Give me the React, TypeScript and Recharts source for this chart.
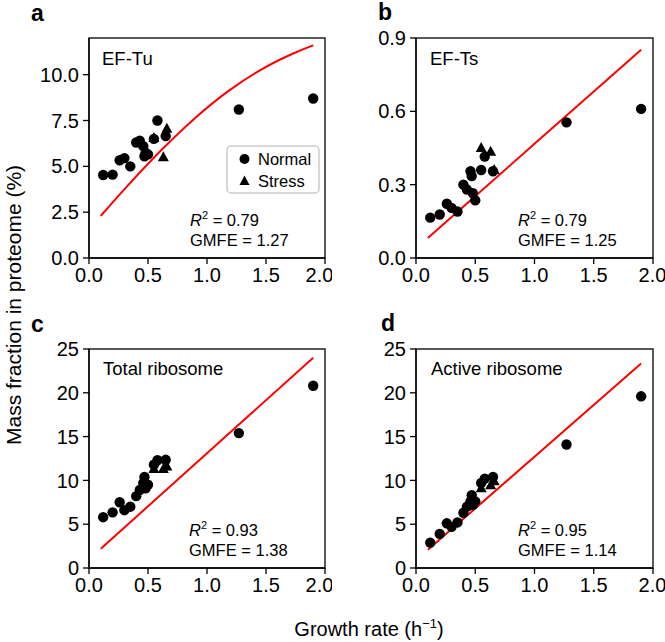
import { ComposedChart, Scatter, Line, XAxis, YAxis } from 'recharts';

// growth rates (h^-1) of the conditions, shared by all four panels
const GROWTH_NORMAL = [0.12, 0.2, 0.26, 0.3, 0.35, 0.4, 0.43, 0.46, 0.47, 0.48, 0.5, 0.55, 0.58, 0.65, 1.27, 1.9];
const GROWTH_STRESS = [0.55, 0.63, 0.66];

// mass fraction in proteome (%)
const EFTU_NORMAL = [4.53, 4.55, 5.33, 5.45, 5.0, 6.3, 6.4, 6.1, 5.55, 5.75, 5.65, 6.5, 7.5, 6.65, 8.1, 8.7];
const EFTU_STRESS = [6.55, 5.5, 7.05];
const EFTS_NORMAL = [0.165, 0.178, 0.222, 0.205, 0.19, 0.3, 0.28, 0.355, 0.335, 0.265, 0.236, 0.36, 0.415, 0.355, 0.555, 0.61];
const EFTS_STRESS = [0.45, 0.435, 0.36];
const TOTAL_RIB_NORMAL = [5.8, 6.35, 7.5, 6.6, 7.0, 8.2, 8.9, 9.7, 10.4, 9.1, 9.5, 11.8, 12.3, 12.35, 15.4, 20.8];
const TOTAL_RIB_STRESS = [11.3, 11.3, 11.6];
const ACTIVE_RIB_NORMAL = [2.9, 3.9, 5.1, 4.7, 5.2, 6.3, 7.0, 7.6, 8.3, 7.2, 7.6, 9.7, 10.2, 10.4, 14.1, 19.6];
const ACTIVE_RIB_STRESS = [9.1, 9.45, 9.9];

// model predictions (red lines)
const FIT_X_EFTU = [0.1, 0.33, 0.62, 0.9, 1.18, 1.46, 1.75, 1.9];
const FIT_Y_EFTU = [2.3, 3.96, 5.93, 7.64, 9.1, 10.28, 11.21, 11.6];
const FIT_X_EFTS = [0.1, 1.0, 1.9];
const FIT_Y_EFTS = [0.082, 0.467, 0.852];
const FIT_X_TOTAL = [0.1, 1.0, 1.9];
const FIT_Y_TOTAL = [2.2, 13.1, 24.0];
const FIT_X_ACTIVE = [0.1, 1.0, 1.9];
const FIT_Y_ACTIVE = [2.08, 12.7, 23.35];

const X_TICKS = [0, 0.5, 1, 1.5, 2];
const FONT = '"Liberation Sans", Arial, Helvetica, sans-serif';
const AXIS = { stroke: '#000', strokeWidth: 1.3 };
const Y_AXIS_W = 60;
const X_AXIS_H = 30;

const zip = (xs: number[], ys: number[]) => xs.map((x, i) => ({ x, y: ys[i] }));

const Dot = (p: any) => <circle cx={p.cx} cy={p.cy} r={5.2} fill="#000" />;
const Tri = (p: any) => (
    <path d={`M${p.cx},${p.cy - 6} L${p.cx + 5.5},${p.cy + 4} L${p.cx - 5.5},${p.cy + 4} Z`} fill="#000" />
);

function Panel({ left, top, width, height, margin, yMax, yTicks, yFmt, normal, stress, fitX, fitY }: any) {
    const tickStyle = { fill: '#000', fontSize: 20, fontFamily: FONT };
    // plot box, from the same margins the chart uses
    const boxX = margin.left + Y_AXIS_W;
    const boxY = margin.top;
    const boxW = width - margin.right - boxX;
    const boxH = height - margin.bottom - X_AXIS_H - boxY;
    return (
        <div style={{ position: 'absolute', left, top, width, height }}>
            <ComposedChart width={width} height={height} margin={margin}>
                <XAxis
                    type="number"
                    dataKey="x"
                    domain={[0, 2]}
                    ticks={X_TICKS}
                    tickFormatter={(v: number) => v.toFixed(1)}
                    tick={tickStyle}
                    tickSize={6}
                    tickMargin={4}
                    height={X_AXIS_H}
                    axisLine={AXIS}
                    tickLine={AXIS}
                    allowDataOverflow
                />
                <YAxis
                    type="number"
                    dataKey="y"
                    domain={[0, yMax]}
                    ticks={yTicks}
                    tickFormatter={yFmt}
                    tick={tickStyle}
                    tickSize={6}
                    tickMargin={4}
                    width={Y_AXIS_W}
                    axisLine={AXIS}
                    tickLine={AXIS}
                    allowDataOverflow
                />
                <Line
                    data={zip(fitX, fitY)}
                    dataKey="y"
                    type="monotone"
                    stroke="#ff0000"
                    strokeWidth={2}
                    dot={false}
                    isAnimationActive={false}
                />
                <Scatter data={zip(GROWTH_NORMAL, normal)} dataKey="y" shape={Dot} isAnimationActive={false} />
                <Scatter data={zip(GROWTH_STRESS, stress)} dataKey="y" shape={Tri} isAnimationActive={false} />
            </ComposedChart>
            {/* closes the frame (top and right spines) */}
            <svg width={width} height={height} style={{ position: 'absolute', left: 0, top: 0, pointerEvents: 'none' }}>
                <rect x={boxX} y={boxY} width={boxW} height={boxH} fill="none" stroke="#000" strokeWidth={1.3} />
            </svg>
        </div>
    );
}

const fmt1 = (v: number) => v.toFixed(1);
const fmt0 = (v: number) => String(v);

function Note({ x, y, r2, gmfe }: any) {
    return (
        <g fontSize={16.5}>
            <text x={x} y={y}>
                <tspan fontStyle="italic">R</tspan>
                <tspan fontSize={11} dy={-7}>2</tspan>
                <tspan dy={7}>{` = ${r2}`}</tspan>
            </text>
            <text x={x} y={y + 20}>{`GMFE = ${gmfe}`}</text>
        </g>
    );
}

export default function App() {
    return (
        <div style={{ position: 'absolute', left: 0, top: 0, width: 665, height: 642, background: '#fff', fontFamily: FONT }}>
            <Panel
                left={0} top={0} width={332} height={300}
                margin={{ top: 38, right: 7, bottom: 12, left: 29 }}
                yMax={12} yTicks={[0, 2.5, 5, 7.5, 10]} yFmt={fmt1}
                normal={EFTU_NORMAL} stress={EFTU_STRESS} fitX={FIT_X_EFTU} fitY={FIT_Y_EFTU}
            />
            <Panel
                left={332} top={0} width={333} height={300}
                margin={{ top: 38, right: 12, bottom: 12, left: 24 }}
                yMax={0.9} yTicks={[0, 0.3, 0.6, 0.9]} yFmt={fmt1}
                normal={EFTS_NORMAL} stress={EFTS_STRESS} fitX={FIT_X_EFTS} fitY={FIT_Y_EFTS}
            />
            <Panel
                left={0} top={300} width={332} height={310}
                margin={{ top: 49, right: 7, bottom: 12, left: 29 }}
                yMax={25} yTicks={[0, 5, 10, 15, 20, 25]} yFmt={fmt0}
                normal={TOTAL_RIB_NORMAL} stress={TOTAL_RIB_STRESS} fitX={FIT_X_TOTAL} fitY={FIT_Y_TOTAL}
            />
            <Panel
                left={332} top={300} width={333} height={310}
                margin={{ top: 49, right: 12, bottom: 12, left: 24 }}
                yMax={25} yTicks={[0, 5, 10, 15, 20, 25]} yFmt={fmt0}
                normal={ACTIVE_RIB_NORMAL} stress={ACTIVE_RIB_STRESS} fitX={FIT_X_ACTIVE} fitY={FIT_Y_ACTIVE}
            />

            {/* labels, notes and legend on top of the four panels */}
            <svg width={665} height={642} style={{ position: 'absolute', left: 0, top: 0, pointerEvents: 'none' }} fontFamily={FONT} fill="#000">
                <g fontSize={23} fontWeight="bold">
                    <text x={31} y={21}>a</text>
                    <text x={378} y={20}>b</text>
                    <text x={31} y={332}>c</text>
                    <text x={381} y={331}>d</text>
                </g>
                <g fontSize={18.5}>
                    <text x={102} y={65}>EF-Tu</text>
                    <text x={430} y={65}>EF-Ts</text>
                    <text x={103} y={375}>Total ribosome</text>
                    <text x={431} y={375}>Active ribosome</text>
                </g>
                <Note x={190} y={226} r2="0.79" gmfe="1.27" />
                <Note x={518} y={226} r2="0.79" gmfe="1.25" />
                <Note x={189} y={536} r2="0.93" gmfe="1.38" />
                <Note x={518} y={536} r2="0.95" gmfe="1.14" />

                <rect x={227} y={146} width={92} height={47} rx={4} fill="#fff" stroke="#ccc" strokeWidth={1.5} />
                <circle cx={244.5} cy={159} r={5} />
                <path d="M244.5,175.5 L249.5,185 L239.5,185 Z" />
                <g fontSize={16.5}>
                    <text x={258} y={165}>Normal</text>
                    <text x={258} y={187}>Stress</text>
                </g>

                <text transform="translate(21,305) rotate(-90)" textAnchor="middle" fontSize={21}>
                    Mass fraction in proteome (%)
                </text>
                <text x={369} y={636} textAnchor="middle" fontSize={20}>
                    Growth rate (h<tspan fontSize={13} dy={-8}>−1</tspan><tspan dy={8}>)</tspan>
                </text>
            </svg>
        </div>
    );
}
